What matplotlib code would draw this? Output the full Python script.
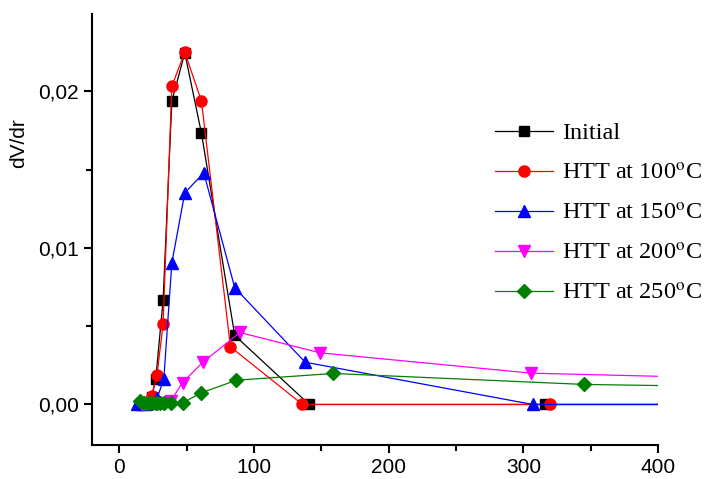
import numpy as np
import matplotlib
matplotlib.use("Agg")
import matplotlib.pyplot as plt
from matplotlib.ticker import MultipleLocator, FuncFormatter

plt.rcParams['font.family'] = ['Liberation Sans', 'DejaVu Sans']
plt.rcParams['mathtext.fontset'] = 'stix'

# pore radius (x) and dV/dr (y)
x_init = [17, 20, 24, 27, 32.5, 39, 48.6, 61, 85.7, 141, 316, 400]
y_init = [0, 0, 0.0005, 0.0016, 0.00666, 0.01938, 0.02247, 0.01732, 0.00441, 0, 0, 0]

x_100 = [17, 20, 24, 28, 32.5, 39, 48.6, 61, 82.5, 136, 320, 400]
y_100 = [0, 0, 0.00055, 0.0019, 0.00515, 0.02034, 0.02251, 0.01938, 0.00368, 0, 0, 0]

x_150 = [13, 17, 20, 24, 28, 33, 39, 48.6, 62.7, 85.7, 138, 307, 400]
y_150 = [0, 0, 0, 0.0001, 0.0004, 0.0016, 0.00905, 0.01352, 0.0148, 0.00746, 0.0027, 0, 0]

x_200 = [17, 20, 24, 28, 32, 38, 47, 62, 89.5, 149, 306, 400]
y_200 = [0, 0, 0, 0, 0.0001, 0.0002, 0.0014, 0.0027, 0.0046, 0.0033, 0.0020, 0.0018]

x_250 = [15, 18, 21, 24, 27, 30, 33, 38, 47, 61, 87, 159, 345, 400]
y_250 = [0.0002, 0.0001, 0.0001, 0.0001, 0.0001, 0.0001, 0.0001, 0.0001, 0.0001,
         0.00075, 0.00155, 0.00198, 0.00128, 0.00121]

labels = ['Initial', 'HTT at 100$^{\\mathrm{o}}$C', 'HTT at 150$^{\\mathrm{o}}$C',
          'HTT at 200$^{\\mathrm{o}}$C', 'HTT at 250$^{\\mathrm{o}}$C']

fig = plt.figure(figsize=(7.09, 4.79), dpi=100)
ax = fig.add_axes([92/709, 1-445/479, (658-92)/709, (445-14)/479])

# last point of each series sits on the right edge, no marker there
ax.plot(x_init, y_init, color='black', marker='s', ms=6.5, lw=0.9, markevery=slice(0, -1), label=labels[0])
ax.plot(x_100, y_100, color='red', marker='o', ms=8, lw=0.9, markevery=slice(0, -1), label=labels[1])
ax.plot(x_150, y_150, color='blue', marker='^', ms=8.5, lw=0.9, markevery=slice(0, -1), label=labels[2])
ax.plot(x_200, y_200, color='magenta', marker='v', ms=8.5, lw=0.9, markevery=slice(0, -1), label=labels[3])
ax.plot(x_250, y_250, color='green', marker='D', ms=7, lw=0.9, markevery=slice(0, -1), label=labels[4])

ax.set_xlim(-20.3, 400)
ax.set_ylim(-0.00259, 0.02495)
ax.spines['top'].set_visible(False)
ax.spines['right'].set_visible(False)
for s in ['left', 'bottom']:
    ax.spines[s].set_linewidth(1.5)

ax.xaxis.set_major_locator(MultipleLocator(100))
ax.xaxis.set_minor_locator(MultipleLocator(50))
ax.yaxis.set_major_locator(MultipleLocator(0.01))
ax.yaxis.set_minor_locator(MultipleLocator(0.005))
ax.yaxis.set_major_formatter(FuncFormatter(lambda v, p: ('%.2f' % v).replace('.', ',')))
ax.tick_params(which='both', direction='out', width=1.5, labelsize=15)
ax.tick_params(which='major', length=6)
ax.tick_params(which='minor', length=4)
ax.set_ylabel('dV/dr', fontsize=15)
ax.yaxis.set_label_coords(-0.113, 0.70)

ax.legend(loc='upper left', bbox_to_anchor=(495/709, 1-122/479), bbox_transform=fig.transFigure,
          frameon=False, borderpad=0, borderaxespad=0, handlelength=2.4, handletextpad=0.35,
          labelspacing=0.75, prop={'family': 'Liberation Serif', 'size': 17.5})

fig.savefig('out.png', dpi=100)
